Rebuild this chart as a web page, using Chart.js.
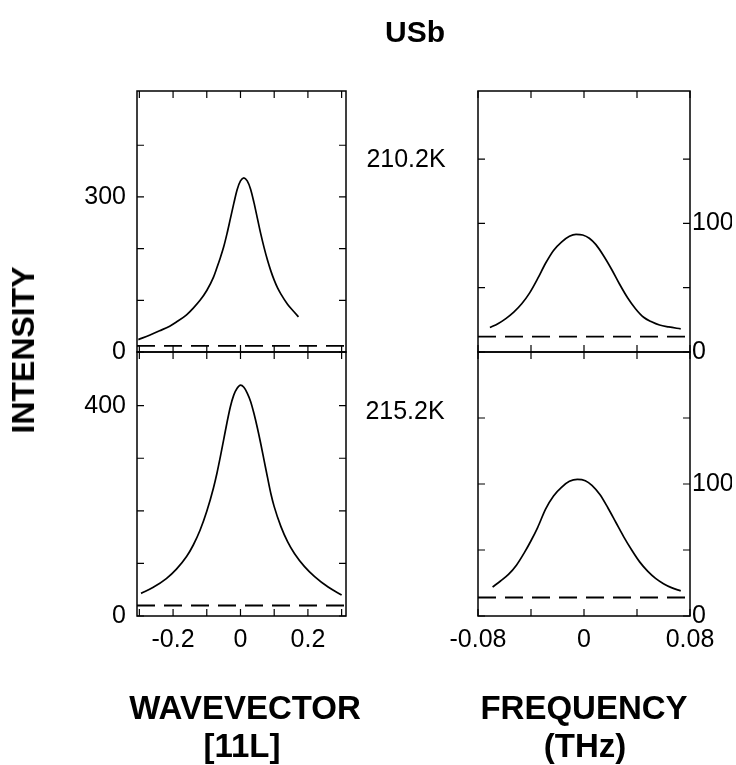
<!DOCTYPE html>
<html>
<head>
<meta charset="utf-8">
<script src="https://cdn.jsdelivr.net/npm/chart.js@4/dist/chart.umd.min.js"></script>
<style>
  html, body { margin: 0; padding: 0; background: #fff; }
  #wrap { position: relative; width: 736px; height: 765px; overflow: hidden; font-family: "Liberation Sans", Arial, Helvetica, sans-serif; color: #000; }
  canvas.pan { position: absolute; left: 0; top: 0; }
  .t { position: absolute; transform: translate(-50%, -50%); white-space: nowrap; line-height: 1; }
  .b { font-weight: bold; }
</style>
</head>
<body>
<div id="wrap">
  <canvas class="pan" id="cTL" width="736" height="765"></canvas>
  <canvas class="pan" id="cBL" width="736" height="765"></canvas>
  <canvas class="pan" id="cTR" width="736" height="765"></canvas>
  <canvas class="pan" id="cBR" width="736" height="765"></canvas>
  <div class="t b" style="left:415px; top:32px; font-size:30px;">USb</div>
  <div class="t b" style="left:23px; top:350px; font-size:32px; transform: translate(-50%, -50%) rotate(-90deg);">INTENSITY</div>
  <div class="t" style="left:406px; top:158px; font-size:25px;">210.2K</div>
  <div class="t" style="left:405px; top:410px; font-size:25px;">215.2K</div>
  <div class="t b" style="left:245px; top:707px; font-size:33px;">WAVEVECTOR</div>
  <div class="t b" style="left:242px; top:745px; font-size:33px;">[11L]</div>
  <div class="t b" style="left:584px; top:707px; font-size:33px;">FREQUENCY</div>
  <div class="t b" style="left:585px; top:745px; font-size:33px;">(THz)</div>
</div>
<script>
// ---------------- DATA ----------------
// Top-left: wavevector scan, 210.2K
const tlX = [-0.303, -0.27, -0.24, -0.21, -0.19, -0.16, -0.14, -0.12, -0.10, -0.08, -0.07, -0.06, -0.05, -0.04, -0.03, -0.02, -0.01, 0.0, 0.01, 0.02, 0.03, 0.04, 0.05, 0.06, 0.07, 0.08, 0.09, 0.10, 0.11, 0.12, 0.14, 0.16, 0.172];
const tlY = [24, 32.5, 41, 50, 58, 72, 85, 100, 119, 145, 163, 182, 203, 229, 258, 287, 314, 331, 337, 331, 315, 289, 259, 229, 202, 178, 157, 139, 124, 112, 92, 77, 68];
const tlBase = 12;
// Bottom-left: wavevector scan, 215.2K
const blX = [-0.295, -0.26, -0.22, -0.19, -0.16, -0.14, -0.12, -0.10, -0.08, -0.07, -0.06, -0.05, -0.04, -0.03, -0.02, -0.01, 0.0, 0.01, 0.02, 0.03, 0.04, 0.05, 0.06, 0.07, 0.08, 0.09, 0.10, 0.12, 0.14, 0.16, 0.19, 0.22, 0.26, 0.30];
const blY = [43, 54, 71, 89, 113, 135, 163, 199, 244, 271, 302, 335, 368, 398, 420, 433, 439, 435, 424, 408, 385, 358, 328, 296, 264, 233, 208, 170, 141, 119, 94, 75, 55, 40];
const blBase = 20;
// Top-right: frequency scan, 210.2K
const trX = [-0.071, -0.065, -0.059, -0.053, -0.047, -0.041, -0.035, -0.029, -0.023, -0.017, -0.011, -0.006, -0.001, 0.004, 0.009, 0.015, 0.021, 0.027, 0.033, 0.039, 0.045, 0.051, 0.057, 0.064, 0.073];
const trY = [19, 22, 26, 31, 37.5, 46, 57, 69, 79, 85.5, 90, 91.5, 91, 88.5, 83.5, 74.5, 64, 52.5, 42, 33.5, 27, 23.5, 21, 19.5, 18];
const trBase = 12;
// Bottom-right: frequency scan, 215.2K
const brX = [-0.069, -0.063, -0.057, -0.051, -0.045, -0.040, -0.035, -0.029, -0.023, -0.017, -0.011, -0.005, 0.001, 0.006, 0.012, 0.018, 0.024, 0.030, 0.036, 0.042, 0.048, 0.054, 0.060, 0.066, 0.073];
const brY = [22, 26.5, 31.5, 38.5, 48, 57, 67, 81, 91, 97.5, 102, 103.5, 102.5, 99, 92, 82, 71, 60, 50, 41, 34, 28.5, 24.5, 21.5, 19];
const brBase = 14;

// Axis ranges and ticks
const leftXRange = [-0.307, 0.313];
const rightXRange = [-0.08, 0.08];
const leftXTicks = [-0.3, -0.2, -0.1, 0, 0.1, 0.2, 0.3];
const leftXLabels = [-0.2, 0, 0.2];
const rightXTicks = [-0.08, -0.04, 0, 0.04, 0.08];
const rightXLabels = [-0.08, 0, 0.08];
const tlYRange = [0, 505];
const blYRange = [0, 502];
const trYRange = [0, 203];
const brYRange = [0, 200];
const tlYTicks = [0, 100, 200, 300, 400];
const tlYLabels = [0, 300];
const blYTicks = [0, 100, 200, 300, 400];
const blYLabels = [0, 400];
const rYTicks = [0, 50, 100, 150];
const rYLabels = [0, 100];

// ---------------- RENDER ----------------
const FONT = { family: '"Liberation Sans", Arial, Helvetica, sans-serif', size: 25 };

const framePlugin = {
  id: 'frameTicks',
  afterDraw(chart) {
    const ctx = chart.ctx, a = chart.chartArea, L = 7;
    ctx.save();
    ctx.strokeStyle = '#000';
    ctx.lineWidth = 1.5;
    ctx.strokeRect(a.left, a.top, a.right - a.left, a.bottom - a.top);
    ctx.lineWidth = 1.2;
    ctx.beginPath();
    const xs = chart.scales.x, ys = chart.scales.y;
    xs.ticks.forEach(t => {
      const p = xs.getPixelForValue(t.value);
      ctx.moveTo(p, a.bottom); ctx.lineTo(p, a.bottom - L);
      ctx.moveTo(p, a.top); ctx.lineTo(p, a.top + L);
    });
    ys.ticks.forEach(t => {
      const p = ys.getPixelForValue(t.value);
      ctx.moveTo(a.left, p); ctx.lineTo(a.left + L, p);
      ctx.moveTo(a.right, p); ctx.lineTo(a.right - L, p);
    });
    ctx.stroke();
    ctx.restore();
  }
};

function pts(xs, ys) { return xs.map((x, i) => ({ x: x, y: ys[i] })); }

function makePanel(id, cfg) {
  const isLeft = cfg.side === 'left';
  new Chart(document.getElementById(id), {
    type: 'scatter',
    data: {
      datasets: [
        { data: pts(cfg.x, cfg.y), showLine: true, borderColor: '#000', borderWidth: 1.7, pointRadius: 0, cubicInterpolationMode: 'monotone', fill: false },
        { data: pts(cfg.xRange, [cfg.base, cfg.base]), showLine: true, borderColor: '#000', borderWidth: 1.8, borderDash: [18, 9], pointRadius: 0, fill: false }
      ]
    },
    options: {
      responsive: false,
      animation: false,
      events: [],
      layout: { padding: cfg.padding },
      plugins: { legend: { display: false }, tooltip: { enabled: false }, title: { display: false } },
      scales: {
        x: {
          type: 'linear', position: 'bottom',
          min: cfg.xRange[0], max: cfg.xRange[1],
          grid: { display: false, drawTicks: false },
          border: { display: false },
          afterBuildTicks: s => { s.ticks = cfg.xTicks.map(v => ({ value: v })); },
          afterFit: s => { s.height = cfg.showX ? 50 : 0; },
          ticks: {
            display: cfg.showX, autoSkip: false, maxRotation: 0, padding: 9,
            color: '#000', font: FONT,
            callback: v => (cfg.xLabels.includes(v) ? String(v) : '')
          }
        },
        y: {
          type: 'linear', position: isLeft ? 'left' : 'right',
          min: cfg.yRange[0], max: cfg.yRange[1],
          grid: { display: false, drawTicks: false },
          border: { display: false },
          afterBuildTicks: s => { s.ticks = cfg.yTicks.map(v => ({ value: v })); },
          afterFit: s => { s.width = isLeft ? 60 : 42; },
          ticks: {
            autoSkip: false, padding: isLeft ? 11 : 2,
            color: '#000', font: FONT,
            callback: v => (cfg.yLabels.includes(v) ? String(v) : '')
          }
        }
      }
    },
    plugins: [framePlugin]
  });
}

makePanel('cTL', { side: 'left', x: tlX, y: tlY, base: tlBase, xRange: leftXRange, yRange: tlYRange,
  xTicks: leftXTicks, xLabels: leftXLabels, yTicks: tlYTicks, yLabels: tlYLabels, showX: false,
  padding: { left: 77, right: 390, top: 91, bottom: 413 } });
makePanel('cBL', { side: 'left', x: blX, y: blY, base: blBase, xRange: leftXRange, yRange: blYRange,
  xTicks: leftXTicks, xLabels: leftXLabels, yTicks: blYTicks, yLabels: blYLabels, showX: true,
  padding: { left: 77, right: 390, top: 352, bottom: 99 } });
makePanel('cTR', { side: 'right', x: trX, y: trY, base: trBase, xRange: rightXRange, yRange: trYRange,
  xTicks: rightXTicks, xLabels: rightXLabels, yTicks: rYTicks, yLabels: rYLabels, showX: false,
  padding: { left: 478, right: 4, top: 91, bottom: 413 } });
makePanel('cBR', { side: 'right', x: brX, y: brY, base: brBase, xRange: rightXRange, yRange: brYRange,
  xTicks: rightXTicks, xLabels: rightXLabels, yTicks: rYTicks, yLabels: rYLabels, showX: true,
  padding: { left: 478, right: 4, top: 352, bottom: 99 } });
</script>
</body>
</html>
